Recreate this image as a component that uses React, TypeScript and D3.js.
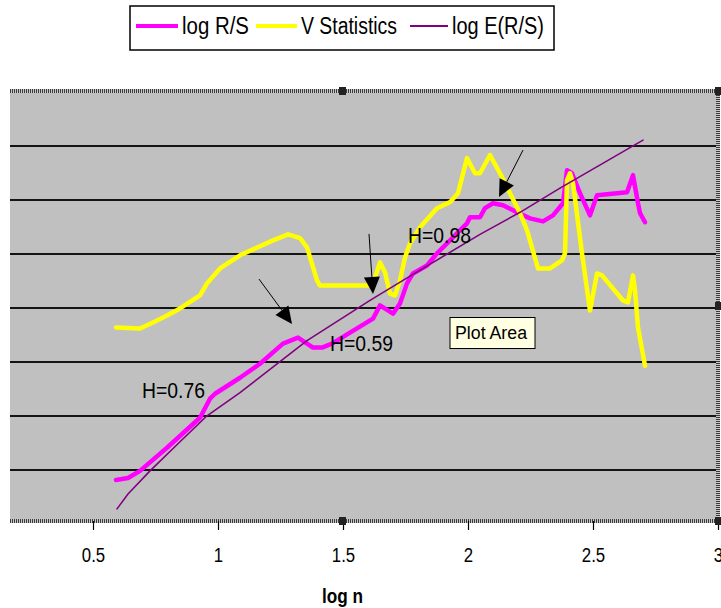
import React, { useEffect, useRef } from 'react';
import * as d3 from 'd3';

// x axis (log n) ticks, hidden y gridlines
const xTicks = [0.5, 1, 1.5, 2, 2.5, 3];
const yGrid = [0.25, 0.5, 0.75, 1, 1.25, 1.5, 1.75];

// log R/S (magenta)
const rsLogN = [0.592, 0.64, 0.688, 0.796, 0.928, 0.968, 0.988, 1.088, 1.168, 1.26, 1.32, 1.38, 1.416, 1.456,
  1.528, 1.62, 1.648, 1.7, 1.728, 1.756, 1.78, 1.836, 1.876, 1.916, 1.956, 1.996, 2.008, 2.048, 2.068, 2.1,
  2.14, 2.196, 2.248, 2.3, 2.34, 2.38, 2.396, 2.416, 2.448, 2.488, 2.516, 2.636, 2.66, 2.68, 2.688, 2.708];
const rsValues = [0.204, 0.213, 0.246, 0.353, 0.492, 0.58, 0.603, 0.677, 0.742, 0.835, 0.863, 0.817, 0.817, 0.835,
  0.886, 0.951, 1.012, 0.974, 1.021, 1.114, 1.16, 1.197, 1.253, 1.299, 1.346, 1.392, 1.42, 1.42, 1.462, 1.485,
  1.476, 1.443, 1.415, 1.401, 1.429, 1.485, 1.638, 1.624, 1.531, 1.429, 1.522, 1.536, 1.615, 1.485, 1.439, 1.397];

// V statistics (yellow)
const vLogN = [0.592, 0.688, 0.74, 0.796, 0.848, 0.928, 0.956, 1.008, 1.088, 1.22, 1.28, 1.328, 1.356, 1.396,
  1.408, 1.6, 1.62, 1.648, 1.668, 1.688, 1.708, 1.728, 1.748, 1.768, 1.808, 1.876, 1.928, 1.96, 1.996, 2.028,
  2.048, 2.088, 2.128, 2.168, 2.208, 2.236, 2.28, 2.328, 2.376, 2.388, 2.396, 2.408, 2.42, 2.456, 2.488, 2.516,
  2.536, 2.62, 2.64, 2.66, 2.668, 2.68, 2.708];
const vValues = [0.91, 0.905, 0.933, 0.965, 0.998, 1.058, 1.114, 1.183, 1.244, 1.313, 1.341, 1.323, 1.281, 1.128,
  1.104, 1.104, 1.114, 1.211, 1.165, 1.067, 1.058, 1.128, 1.234, 1.299, 1.374, 1.462, 1.49, 1.531, 1.694, 1.624,
  1.624, 1.708, 1.624, 1.531, 1.439, 1.36, 1.183, 1.183, 1.22, 1.253, 1.592, 1.624, 1.578, 1.253, 0.988, 1.16,
  1.151, 1.035, 1.026, 1.151, 1.081, 0.91, 0.733];

// log E(R/S) (purple)
const eLogN = [0.596, 0.64, 0.728, 0.848, 0.956, 1.088, 1.356, 1.608, 1.74, 2.048, 2.208, 2.368, 2.7];
const eValues = [0.07, 0.139, 0.246, 0.381, 0.501, 0.608, 0.849, 1.035, 1.128, 1.341, 1.443, 1.555, 1.777];

const seriesNames = ['log R/S', 'V Statistics', 'log E(R/S)'];
const seriesColors = ['#ff00ff', '#ffff00', '#800080'];

// Hurst exponent labels, anchored in data units
const hLabels = ['H=0.76', 'H=0.59', 'H=0.98'];
const hLabelLogN = [0.696, 1.448, 1.76];
const hLabelValue = [0.583, 0.801, 1.301];

// arrows: from -> tip, data units
const arrowFromLogN = [1.164, 1.604, 2.22];
const arrowFromValue = [1.134, 1.343, 1.731];
const arrowTipLogN = [1.296, 1.62, 2.124];
const arrowTipValue = [0.926, 1.065, 1.514];

const NARROW = "'Liberation Sans Narrow', 'Arial Narrow', 'Liberation Sans', Arial, sans-serif";
const REGULAR = "'Liberation Sans', Arial, sans-serif";

const App = () => {
  const svgRef = useRef<SVGSVGElement>(null);

  useEffect(() => {
    document.body.style.margin = '0';
    if (!svgRef.current) return;
    const svg = d3.select(svgRef.current);
    svg.selectAll('*').remove();

    const width = 721;
    const height = 608;
    const plot = { left: 10, top: 91, right: 718, bottom: 521 };

    const x = d3.scaleLinear().domain([0.5, 3]).range([93, 718]);
    const y = d3.scaleLinear().domain([0, 2]).range([524, 92]);

    svg.append('rect').attr('width', width).attr('height', height).attr('fill', '#ffffff');

    // plot area
    svg.append('rect')
      .attr('x', plot.left).attr('y', plot.top)
      .attr('width', plot.right - plot.left).attr('height', plot.bottom - plot.top)
      .attr('fill', '#c0c0c0');

    svg.append('g').selectAll('line')
      .data(yGrid)
      .enter().append('line')
      .attr('x1', plot.left).attr('x2', plot.right)
      .attr('y1', d => y(d)).attr('y2', d => y(d))
      .attr('stroke', '#141414')
      .attr('stroke-width', 2.2);

    // hatched selection border (top, bottom, right)
    const hatch = svg.append('g');
    const borders = [
      [plot.left, plot.top, plot.right, plot.top],
      [plot.left, plot.bottom, plot.right, plot.bottom],
      [plot.right, plot.top, plot.right, plot.bottom]
    ];
    borders.forEach(([x1, y1, x2, y2]) => {
      hatch.append('line').attr('x1', x1).attr('y1', y1).attr('x2', x2).attr('y2', y2)
        .attr('stroke', '#c8c8c8').attr('stroke-width', 4);
      hatch.append('line').attr('x1', x1).attr('y1', y1).attr('x2', x2).attr('y2', y2)
        .attr('stroke', '#3a3a3a').attr('stroke-width', 4).attr('stroke-dasharray', '1 1');
    });

    // series
    const line = d3.line<[number, number]>()
      .x(d => x(d[0]))
      .y(d => y(d[1]));
    const series = [
      { xs: rsLogN, ys: rsValues, w: 4.5 },
      { xs: vLogN, ys: vValues, w: 4.5 },
      { xs: eLogN, ys: eValues, w: 1.6 }
    ];
    series.forEach((s, i) => {
      const pts = s.xs.map((v, j) => [v, s.ys[j]] as [number, number]);
      svg.append('path')
        .attr('d', line(pts))
        .attr('fill', 'none')
        .attr('stroke', seriesColors[i])
        .attr('stroke-width', s.w)
        .attr('stroke-linejoin', 'round')
        .attr('stroke-linecap', 'round');
    });

    // arrows
    const arrows = svg.append('g');
    arrowTipLogN.forEach((_, i) => {
      const sx = x(arrowFromLogN[i]);
      const sy = y(arrowFromValue[i]);
      const tx = x(arrowTipLogN[i]);
      const ty = y(arrowTipValue[i]);
      const len = Math.hypot(tx - sx, ty - sy);
      const ux = (tx - sx) / len;
      const uy = (ty - sy) / len;
      const headLen = 17;
      const halfW = 8;
      const bx = tx - ux * headLen;
      const by = ty - uy * headLen;
      arrows.append('line')
        .attr('x1', sx).attr('y1', sy).attr('x2', bx).attr('y2', by)
        .attr('stroke', '#000').attr('stroke-width', 1);
      arrows.append('polygon')
        .attr('points', `${tx},${ty} ${bx - uy * halfW},${by + ux * halfW} ${bx + uy * halfW},${by - ux * halfW}`)
        .attr('fill', '#000');
    });

    // H labels
    svg.append('g').selectAll('text')
      .data(hLabels)
      .enter().append('text')
      .attr('x', (_, i) => x(hLabelLogN[i]))
      .attr('y', (_, i) => y(hLabelValue[i]))
      .attr('font-family', NARROW)
      .attr('font-size', 22)
      .attr('textLength', 63)
      .attr('lengthAdjust', 'spacingAndGlyphs')
      .attr('fill', '#000')
      .text(d => d);

    // "Plot Area" tooltip
    const tipX = x(1.928);
    const tipY = y(0.956);
    svg.append('rect')
      .attr('x', tipX).attr('y', tipY).attr('width', 85).attr('height', 31)
      .attr('fill', '#ffffe1').attr('stroke', '#000').attr('stroke-width', 1);
    svg.append('text')
      .attr('x', tipX + 5).attr('y', tipY + 21)
      .attr('font-family', REGULAR).attr('font-size', 18)
      .attr('textLength', 72).attr('lengthAdjust', 'spacingAndGlyphs')
      .attr('fill', '#000')
      .text('Plot Area');

    // x axis
    const axis = svg.append('g')
      .attr('transform', `translate(0, ${plot.bottom})`)
      .call(d3.axisBottom(x).tickValues(xTicks).tickSize(9).tickFormat(d3.format('')));
    axis.select('.domain').remove();
    axis.selectAll('.tick line').attr('stroke', '#000').attr('stroke-width', 1.2);
    axis.selectAll('.tick text')
      .attr('y', 41).attr('dy', 0)
      .attr('transform', 'scale(0.8,1)')
      .attr('font-family', NARROW)
      .attr('font-size', 21)
      .attr('fill', '#000');

    svg.append('text')
      .attr('x', 322).attr('y', 603)
      .attr('font-family', NARROW)
      .attr('font-weight', 'bold')
      .attr('font-size', 21)
      .attr('textLength', 41)
      .attr('lengthAdjust', 'spacingAndGlyphs')
      .attr('fill', '#000')
      .text('log n');

    // selection handles
    const handles = [[342, plot.top], [342, plot.bottom], [plot.right, plot.top], [plot.right, 306], [plot.right, plot.bottom]];
    svg.append('g').selectAll('rect')
      .data(handles)
      .enter().append('rect')
      .attr('x', d => d[0] - 3).attr('y', d => d[1] - 4)
      .attr('width', 7).attr('height', 8)
      .attr('fill', '#222');

    // legend
    const legend = svg.append('g');
    legend.append('rect')
      .attr('x', 130).attr('y', 6).attr('width', 424).attr('height', 44)
      .attr('fill', '#fff').attr('stroke', '#000').attr('stroke-width', 1.5);
    const legLineX = [136, 256, 410];
    const legLineW = [42, 41, 38];
    const legTextW = [67, 96, 92];
    seriesNames.forEach((name, i) => {
      legend.append('line')
        .attr('x1', legLineX[i]).attr('x2', legLineX[i] + legLineW[i])
        .attr('y1', 26).attr('y2', 26)
        .attr('stroke', seriesColors[i])
        .attr('stroke-width', i === 2 ? 2 : 4);
      legend.append('text')
        .attr('x', legLineX[i] + legLineW[i] + 4).attr('y', 34)
        .attr('font-family', NARROW).attr('font-size', 23)
        .attr('textLength', legTextW[i]).attr('lengthAdjust', 'spacingAndGlyphs')
        .attr('fill', '#000')
        .text(name);
    });
  }, []);

  return (
    <svg ref={svgRef} width={721} height={608} style={{ position: 'absolute', left: 0, top: 0, display: 'block' }} />
  );
};

export default App;
